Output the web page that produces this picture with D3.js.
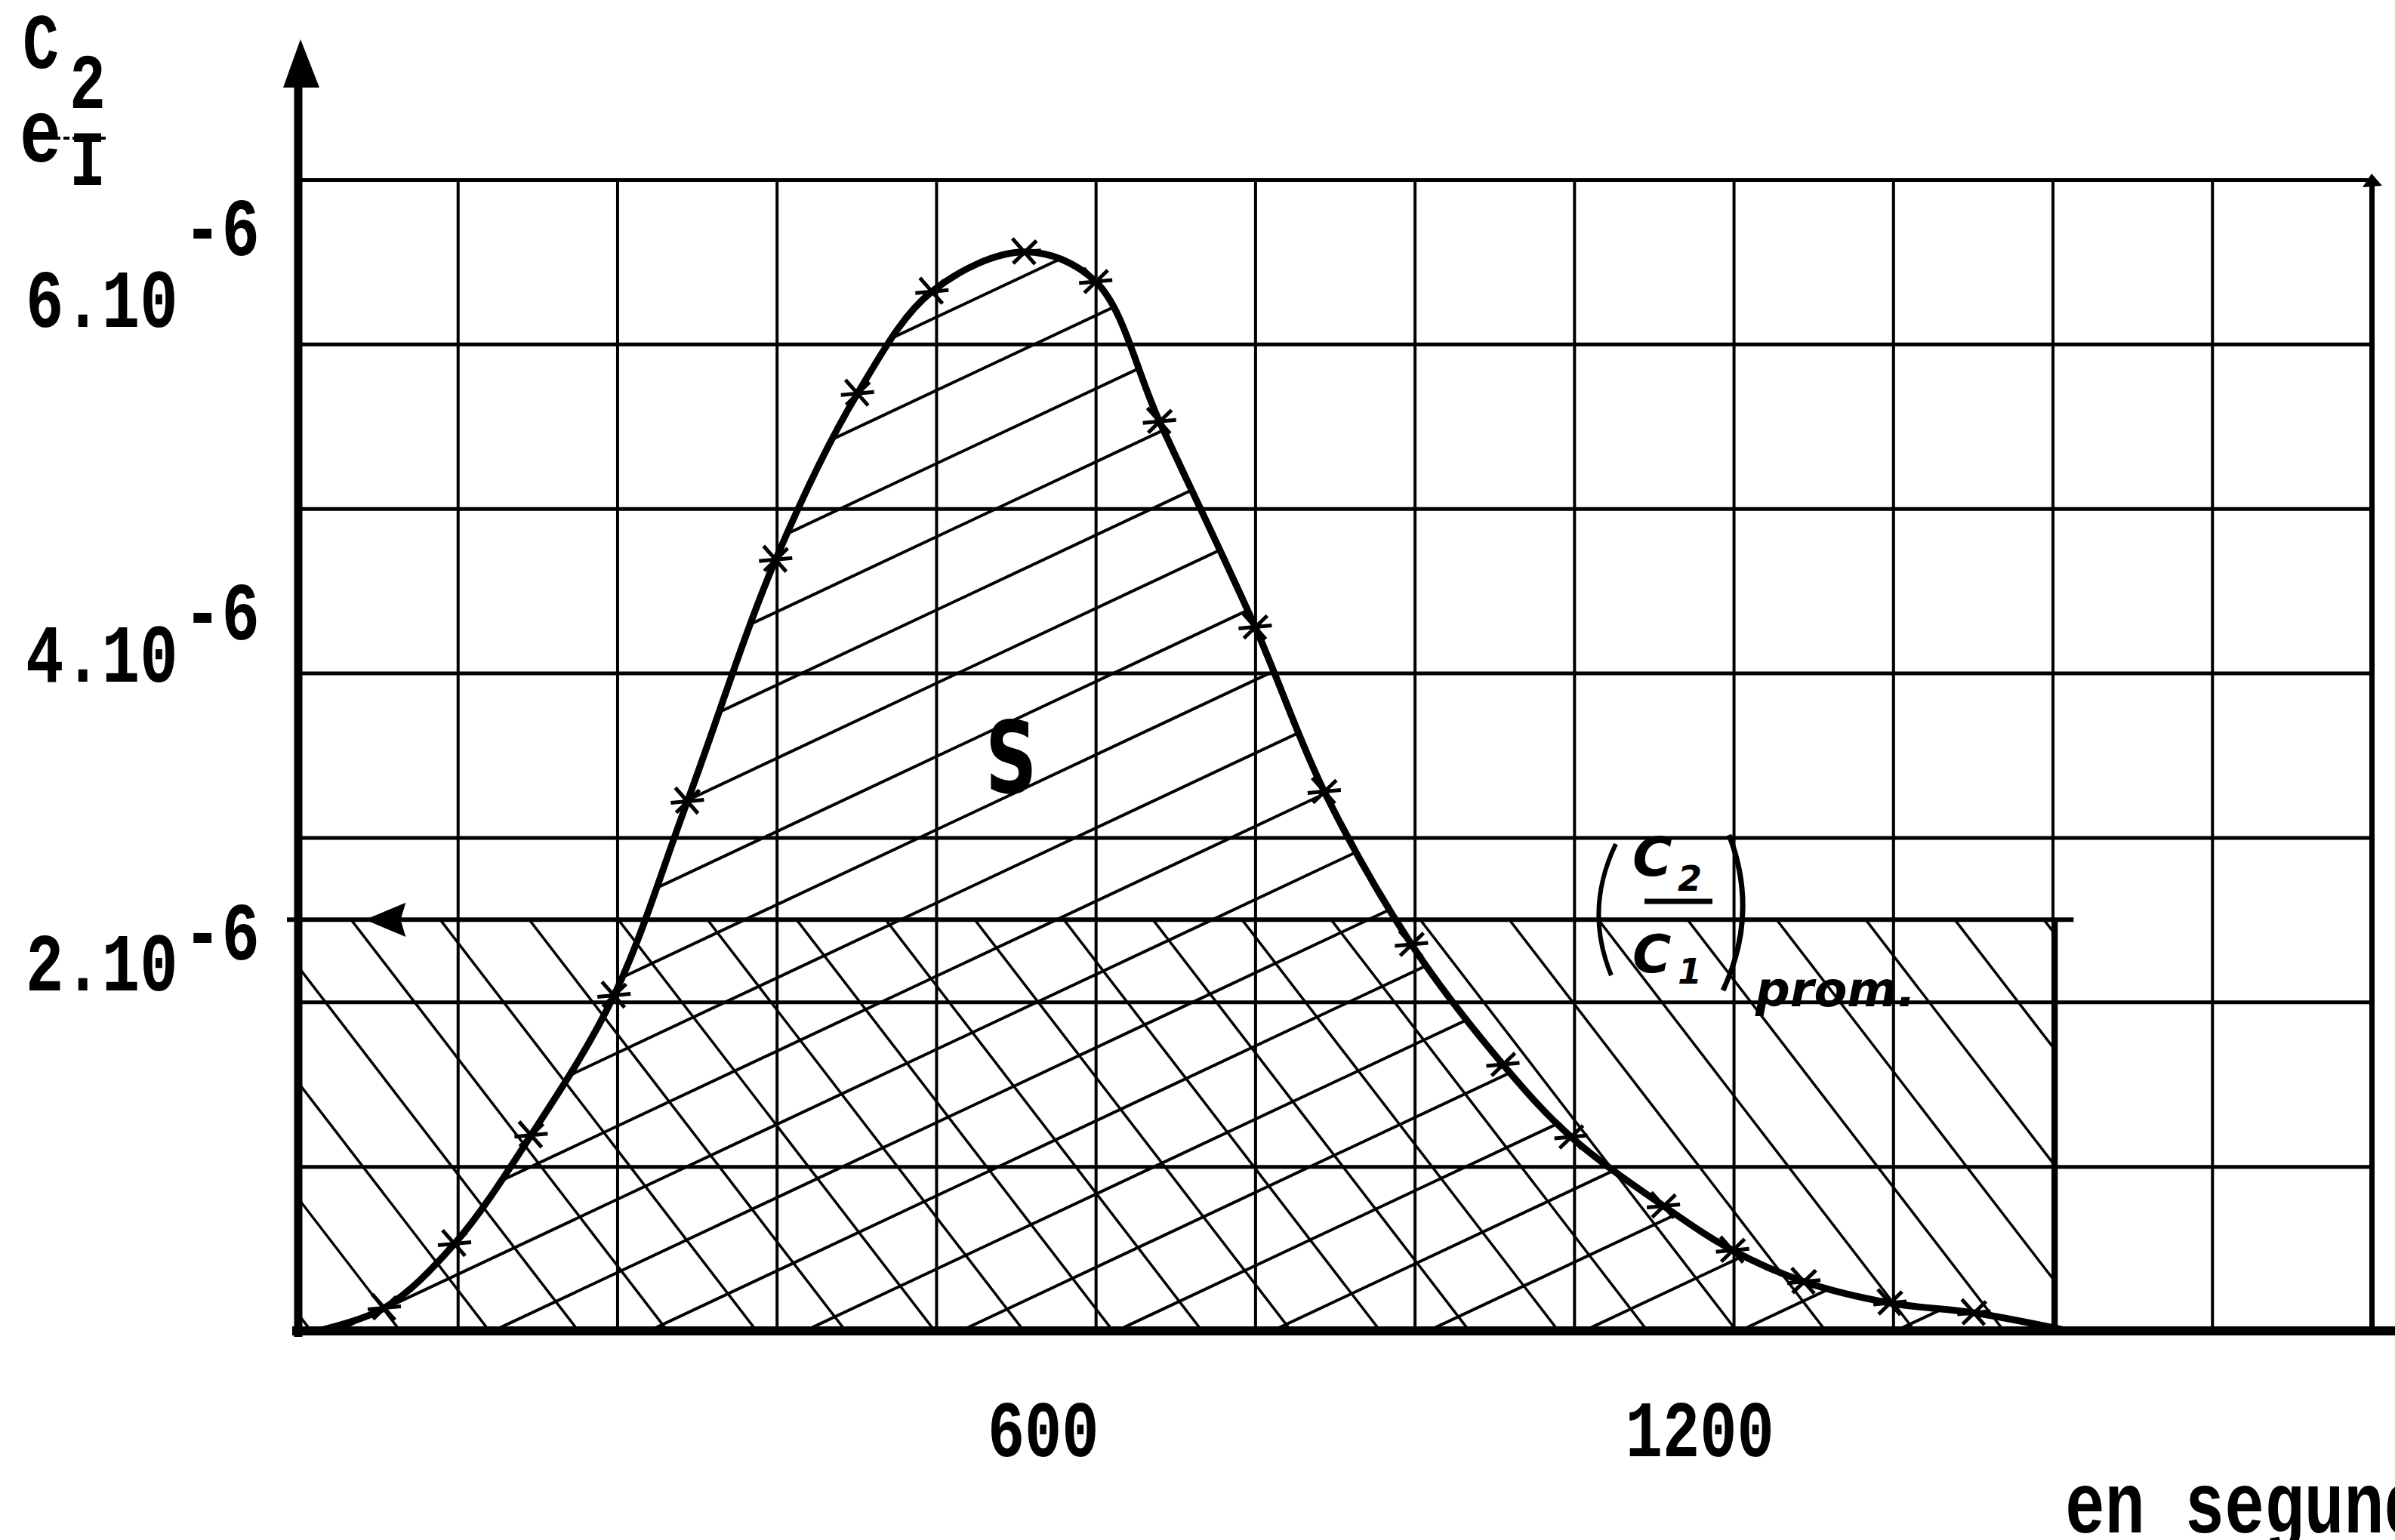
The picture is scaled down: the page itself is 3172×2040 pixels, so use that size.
<!DOCTYPE html>
<html>
<head>
<meta charset="utf-8">
<script src="https://cdn.jsdelivr.net/npm/d3@7"></script>
<style>
  html, body { margin: 0; padding: 0; background: #fff; }
  svg { display: block; }
</style>
</head>
<body>
<svg id="chart" width="3172" height="2040"></svg>
<script>
// ---------------- DATA ----------------
// time (seconds) of the plotted measurement points (marked with crosses)
const timeS = [81, 147, 219, 297, 366, 449, 526, 596, 683, 750, 810, 900, 965, 1047, 1133, 1197, 1284, 1349, 1416, 1497, 1576];
// C2/C1 ratio at those points, in units of 1e-6
const ratioE6 = [0.14, 0.53, 1.19, 2.04, 3.22, 4.69, 5.70, 6.32, 6.56, 6.38, 5.53, 4.28, 3.28, 2.35, 1.62, 1.18, 0.76, 0.49, 0.30, 0.17, 0.11];
// where the hand-drawn curve leaves / rejoins the time axis
const curveStart = [18, 0];
const curveEnd = [1665, 0];
// mean value (C2/C1) prom. and the duration over which it is taken
const meanRatioE6 = 2.5;
const meanEndS = 1652;
// grid and tick labels
const gridTimes = [150, 300, 450, 600, 750, 900, 1050, 1200, 1350, 1500, 1650, 1800, 1950];
const gridRatios = [1, 2, 3, 4, 5, 6, 7];
const xTickValues = [600, 1200];
const xTickLabels = ["600", "1200"];
const yTickValues = [6, 4, 2];
const yTickLabels = ["6.10", "4.10", "2.10"];
const yTickExponent = "-6";
const xAxisTitle = "en segundes";

// ---------------- LAYOUT / STYLE ----------------
const W = 3172, H = 2040;
const X0 = 395, X1 = 3141, Y0 = 1763, Y1 = 238;
const yLabelNudge = [-23, 11, -15];
const yExpRaise = [95, 56, 41];
const TW = "'Liberation Mono', 'Courier New', monospace";
const HAND = "'DejaVu Sans', sans-serif";
const SY = 1.3;

const svg = d3.select("#chart");
svg.append("rect").attr("width", W).attr("height", H).attr("fill", "#fff");

const x = d3.scaleLinear().domain([0, 1950]).range([X0, X1]);
const y = d3.scaleLinear().domain([0, 7]).range([Y0, Y1]);

// ---------------- GRID (through d3 axes) ----------------
const gx = svg.append("g").attr("transform", `translate(0,${Y0})`)
  .call(d3.axisBottom(x).tickValues(gridTimes).tickSize(-(Y0 - Y1)).tickFormat(""));
gx.select(".domain").remove();
gx.selectAll(".tick line").attr("stroke", "#000")
  .attr("stroke-width", d => d === 1950 ? 7 : 4);

const gy = svg.append("g").attr("transform", `translate(${X0},0)`)
  .call(d3.axisLeft(y).tickValues(gridRatios).tickSize(-(X1 - X0)).tickFormat(""));
gy.select(".domain").remove();
gy.selectAll(".tick line").attr("stroke", "#000").attr("stroke-width", 5);

// ---------------- HATCHING ----------------
const pts = [curveStart].concat(timeS.map((t, i) => [t, ratioE6[i]])).concat([curveEnd]);
const curveGen = d3.line().x(d => x(d[0])).y(d => y(d[1])).curve(d3.curveCatmullRom.alpha(0.5));
const areaGen = d3.area().x(d => x(d[0])).y0(y(0)).y1(d => y(d[1])).curve(d3.curveCatmullRom.alpha(0.5));

const defs = svg.append("defs");
defs.append("clipPath").attr("id", "clipS").append("path").attr("d", areaGen(pts));
defs.append("clipPath").attr("id", "clipM").append("rect")
  .attr("x", x(0)).attr("y", y(meanRatioE6))
  .attr("width", x(meanEndS) - x(0)).attr("height", y(0) - y(meanRatioE6));

// "/" hatching of the area S under the curve
const hS = svg.append("g").attr("clip-path", "url(#clipS)");
const slopeS = 0.47, stepS = 97, c0 = 1682;
for (let k = -14; k <= 26; k++) {
  const c = c0 + k * stepS;
  hS.append("line")
    .attr("x1", X0 - 50).attr("y1", c - slopeS * (X0 - 50))
    .attr("x2", 2700).attr("y2", c - slopeS * 2700)
    .attr("stroke", "#000").attr("stroke-width", 4);
}
// "\" hatching of the mean rectangle
const hM = svg.append("g").attr("clip-path", "url(#clipM)");
const slopeM = 1.3, stepM = 118, xs0 = 884;
for (let k = -5; k <= 22; k++) {
  const xa = xs0 + k * stepM;
  const ya = Y0 + 60, yb = y(meanRatioE6) - 60;
  hM.append("line")
    .attr("x1", xa + 60 / slopeM).attr("y1", ya)
    .attr("x2", xa - (Y0 - yb) / slopeM).attr("y2", yb)
    .attr("stroke", "#000").attr("stroke-width", 3.5);
}

// ---------------- MEAN LINE + RECTANGLE ----------------
svg.append("line")
  .attr("x1", X0 - 15).attr("y1", y(meanRatioE6))
  .attr("x2", x(meanEndS) + 25).attr("y2", y(meanRatioE6))
  .attr("stroke", "#000").attr("stroke-width", 6);
svg.append("line")
  .attr("x1", x(meanEndS)).attr("y1", y(meanRatioE6))
  .attr("x2", x(meanEndS)).attr("y2", y(0))
  .attr("stroke", "#000").attr("stroke-width", 8);
// arrow head pointing to the ordinate
const ay = y(meanRatioE6), ax = X0 + 92;
svg.append("path")
  .attr("d", `M${ax},${ay} L${ax + 48},${ay - 20} L${ax + 42},${ay} L${ax + 48},${ay + 20} Z`)
  .attr("fill", "#000").attr("stroke", "#000").attr("stroke-width", 3);

// ---------------- CURVE + MARKERS ----------------
svg.append("path").attr("d", curveGen(pts))
  .attr("fill", "none").attr("stroke", "#000").attr("stroke-width", 9)
  .attr("stroke-linejoin", "round").attr("stroke-linecap", "round");

const mk = svg.append("g");
timeS.forEach((t, i) => {
  const px = x(t), py = y(ratioE6[i]);
  mk.append("path")
    .attr("d", `M${px - 16},${py - 18} L${px + 14},${py + 16} M${px - 15},${py + 15} L${px + 16},${py - 15} M${px - 22},${py + 2} L${px + 22},${py - 2}`)
    .attr("stroke", "#000").attr("stroke-width", 5).attr("fill", "none");
});

// ---------------- AXES ----------------
svg.append("line").attr("x1", X0).attr("y1", Y0 + 8).attr("x2", X0).attr("y2", 110)
  .attr("stroke", "#000").attr("stroke-width", 11);
svg.append("path").attr("d", `M${X0 + 3},52 L${X0 - 20},116 L${X0 + 28},116 Z`).attr("fill", "#000");
svg.append("line").attr("x1", X0 - 8).attr("y1", Y0).attr("x2", W).attr("y2", Y0)
  .attr("stroke", "#000").attr("stroke-width", 12);
// small arrow tip at top of right border
svg.append("path").attr("d", `M${X1},${Y1 - 8} L${X1 - 12},${Y1 + 10} L${X1 + 14},${Y1 + 8} Z`).attr("fill", "#000");

// ---------------- TYPEWRITER TEXT ----------------
function tw(str, px, py, size, anchor) {
  svg.append("text")
    .attr("transform", `translate(${px},${py}) scale(1,${SY})`)
    .attr("font-family", TW).attr("font-weight", "bold")
    .attr("font-size", size).attr("text-anchor", anchor || "start")
    .attr("fill", "#000").text(str);
}
yTickValues.forEach((v, i) => {
  const by = y(v) + yLabelNudge[i];
  tw(yTickLabels[i], 34, by, 84);
  tw(yTickExponent, 243, by - yExpRaise[i], 84);
});
xTickValues.forEach((v, i) => {
  tw(xTickLabels[i], x(v) + 68, Y0 + 166, 82);
});
tw(xAxisTitle, 2735, 2030, 88);

// ordinate title C2 / e_I (one text element)
const title = svg.append("text")
  .attr("transform", `scale(1,${SY})`)
  .attr("font-family", TW).attr("font-weight", "bold").attr("font-size", 80).attr("fill", "#000");
title.append("tspan").attr("x", 30).attr("y", 90 / SY).text("C");
title.append("tspan").attr("x", 92).attr("y", 143 / SY).text("2");
title.append("tspan").attr("x", 26).attr("y", 214 / SY).attr("font-size", 92).text("e");
title.append("tspan").attr("x", 92).attr("y", 245 / SY).text("I");
svg.append("line").attr("x1", 72).attr("y1", 183).attr("x2", 142).attr("y2", 183)
  .attr("stroke", "#000").attr("stroke-width", 4).attr("stroke-dasharray", "8,4");

// ---------------- HANDWRITTEN ANNOTATIONS ----------------
svg.append("text").attr("transform", "translate(1305,1050) scale(0.72,1)")
  .attr("font-family", HAND).attr("font-weight", "bold").attr("font-size", 132)
  .attr("fill", "#000").text("S");

svg.append("path").attr("d", "M2140,1118 Q2098,1205 2134,1292")
  .attr("fill", "none").attr("stroke", "#000").attr("stroke-width", 6);
svg.append("path").attr("d", "M2290,1106 Q2330,1210 2282,1312")
  .attr("fill", "none").attr("stroke", "#000").attr("stroke-width", 7);
const frac = svg.append("text").attr("font-family", HAND)
  .attr("font-style", "italic").attr("font-weight", "bold").attr("fill", "#000");
frac.append("tspan").attr("x", 2162).attr("y", 1160).attr("font-size", 72).text("C");
frac.append("tspan").attr("x", 2222).attr("y", 1180).attr("font-size", 46).text("2");
frac.append("tspan").attr("x", 2162).attr("y", 1288).attr("font-size", 70).text("C");
frac.append("tspan").attr("x", 2222).attr("y", 1303).attr("font-size", 46).text("1");
frac.append("tspan").attr("x", 2325).attr("y", 1333).attr("font-size", 64).text("prom.");
svg.append("line").attr("x1", 2178).attr("y1", 1194).attr("x2", 2268).attr("y2", 1194)
  .attr("stroke", "#000").attr("stroke-width", 7);
</script>
</body>
</html>
